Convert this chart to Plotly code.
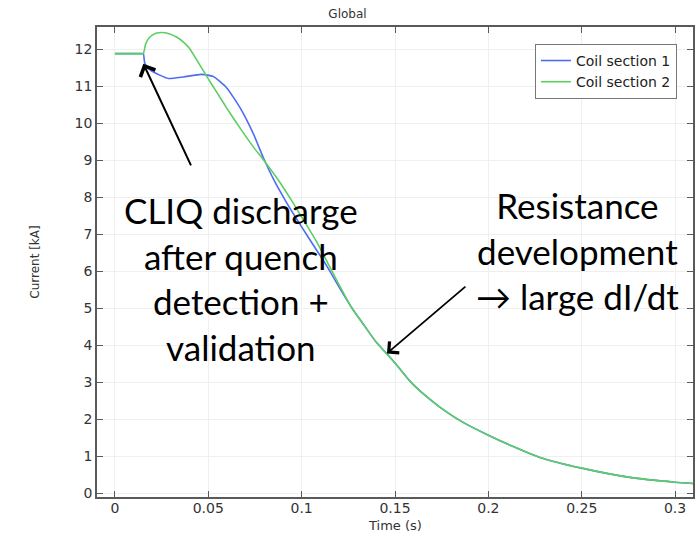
import plotly.graph_objects as go

# ---- data ----
t_coil1 = [0.0, 0.0120, 0.0140, 0.0152, 0.0160, 0.0187, 0.0240, 0.0286, 0.0366, 0.0464,
           0.0527, 0.0598, 0.0670, 0.0741, 0.0794, 0.0850, 0.0920, 0.1000, 0.1070, 0.1140,
           0.1200, 0.1270, 0.1340, 0.1400, 0.1460, 0.1520, 0.1580, 0.1660, 0.1740, 0.1860,
           0.2000, 0.2130, 0.2276, 0.2500, 0.2758, 0.3000, 0.3110]
i_coil1 = [11.88, 11.88, 11.88, 11.88, 11.62, 11.45, 11.30, 11.21, 11.25, 11.32,
           11.26, 10.96, 10.42, 9.72, 9.08, 8.48, 7.85, 7.20, 6.65, 6.10,
           5.58, 5.00, 4.50, 4.08, 3.75, 3.40, 3.03, 2.65, 2.33, 1.93,
           1.57, 1.27, 0.97, 0.68, 0.43, 0.30, 0.26]

t_coil2 = [0.0, 0.0120, 0.0140, 0.0152, 0.0165, 0.0187, 0.0220, 0.0250, 0.0290, 0.0330,
           0.0370, 0.0400, 0.0455, 0.0500, 0.0550, 0.0600, 0.0650, 0.0700, 0.0750, 0.0794,
           0.0884, 0.0950, 0.1020, 0.1080, 0.1140, 0.1200, 0.1270, 0.1340, 0.1400, 0.1460,
           0.1520, 0.1580, 0.1660, 0.1740, 0.1860, 0.2000, 0.2130, 0.2276, 0.2500, 0.2758,
           0.3000, 0.3110]
i_coil2 = [11.88, 11.88, 11.88, 11.88, 12.15, 12.33, 12.43, 12.45, 12.42, 12.33,
           12.18, 12.02, 11.57, 11.20, 10.80, 10.40, 10.02, 9.65, 9.30, 9.02,
           8.40, 7.88, 7.30, 6.80, 6.22, 5.64, 5.00, 4.50, 4.08, 3.75,
           3.40, 3.03, 2.65, 2.33, 1.93, 1.57, 1.27, 0.97, 0.68, 0.43,
           0.30, 0.26]

series_names = ["Coil section 1", "Coil section 2"]
x_ticks = [0, 0.05, 0.1, 0.15, 0.2, 0.25, 0.3]
x_tick_labels = ["0", "0.05", "0.1", "0.15", "0.2", "0.25", "0.3"]
y_ticks = list(range(0, 13))

x_title = "Time (s)"
y_title = "Current [kA]"
note_left = "CLIQ discharge<br>after quench<br>detection +<br>validation"
note_right = "Resistance<br>development<br>→ large dI/dt"

AXIS_FONT = "DejaVu Sans"
BIG_FONT = "Lato"

fig = go.Figure()
fig.add_trace(go.Scatter(x=t_coil1, y=i_coil1, mode="lines", name=series_names[0],
                         line=dict(color="#4f6cf5", width=1.6, shape="spline", smoothing=0.5)))
fig.add_trace(go.Scatter(x=t_coil2, y=i_coil2, mode="lines", name=series_names[1],
                         line=dict(color="#5ccf63", width=1.6, shape="spline", smoothing=0.5)))

axis_common = dict(
    showline=True, linecolor="#5a5a5a", linewidth=1.6, mirror="ticks",
    ticks="inside", ticklen=6, tickcolor="#5a5a5a", tickwidth=1,
    showgrid=True, gridcolor="#efefef", gridwidth=1, zeroline=False,
    tickfont=dict(family=AXIS_FONT, size=14, color="#333333"),
)

fig.update_xaxes(range=[-0.0096, 0.3096], tickvals=x_ticks, ticktext=x_tick_labels,
                 ticklabelstandoff=-3, automargin=False, **axis_common)
fig.update_yaxes(range=[-0.1, 12.6], tickvals=y_ticks,
                 title=dict(text=y_title, font=dict(family=AXIS_FONT, size=12, color="#333333"),
                            standoff=32),
                 automargin=False, **axis_common)

# x-axis title placed just under the tick labels, as in the reference
fig.add_annotation(x=0.5, y=0, xref="paper", yref="paper", yanchor="middle", yshift=-28,
                   text=x_title, showarrow=False,
                   font=dict(family=AXIS_FONT, size=13, color="#333333"))

fig.add_annotation(x=0.0152, y=11.61, ax=0.0411, ay=8.82, xref="x", yref="y", axref="x", ayref="y",
                   text="", showarrow=True, arrowhead=4, arrowsize=1.6, arrowwidth=2, arrowcolor="black")
fig.add_annotation(x=0.1457, y=3.78, ax=0.1885, ay=5.62, xref="x", yref="y", axref="x", ayref="y",
                   text="", showarrow=True, arrowhead=4, arrowsize=1.6, arrowwidth=1.8, arrowcolor="black")

fig.add_annotation(x=0.0677, y=5.80, xref="x", yref="y", text=note_left, showarrow=False,
                   font=dict(family=BIG_FONT, size=35, color="black"), align="center")
fig.add_annotation(x=0.2476, y=6.57, xref="x", yref="y", text=note_right, showarrow=False,
                   font=dict(family=BIG_FONT, size=35, color="black"), align="center")

fig.update_layout(
    width=695, height=533,
    margin=dict(l=97, r=2, t=27, b=36, autoexpand=False),
    paper_bgcolor="white", plot_bgcolor="white",
    title=dict(text="Global", x=0.5, xref="container", y=1 - 14 / 533, yref="container",
               xanchor="center", yanchor="middle",
               font=dict(family=AXIS_FONT, size=12, color="#333333")),
    legend=dict(x=0.973, y=0.964, xanchor="right", yanchor="top",
                bgcolor="white", bordercolor="#777777", borderwidth=1,
                font=dict(family=AXIS_FONT, size=14, color="#222222")),
    showlegend=True,
)

fig.write_html("out.html")
